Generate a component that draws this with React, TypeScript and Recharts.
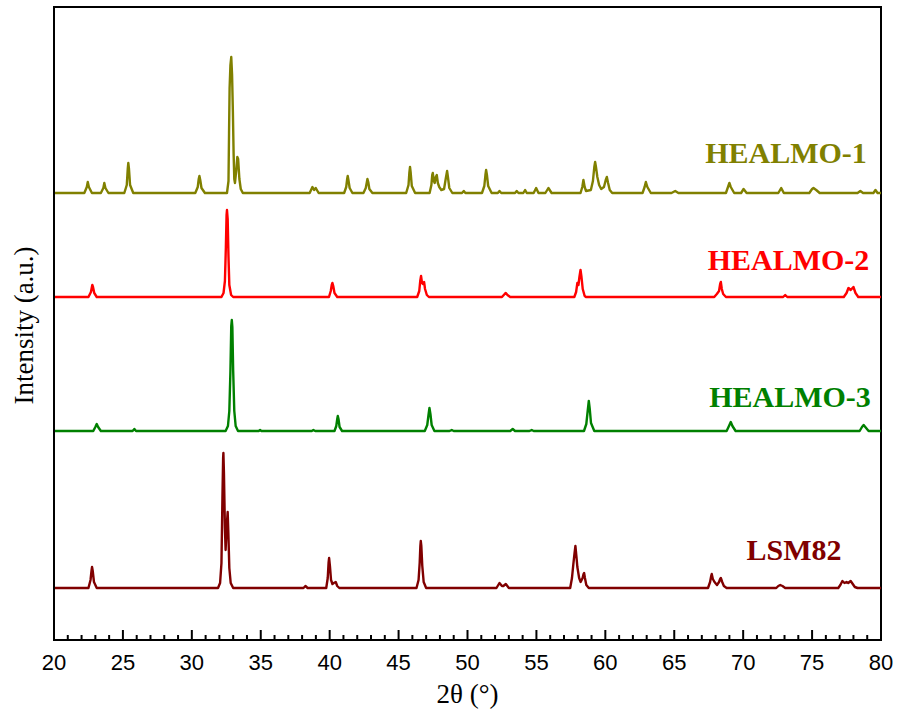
import React from 'react';
import { LineChart, Line, XAxis, YAxis, ReferenceArea, ReferenceDot, Label } from 'recharts';

// 2θ (deg) vs intensity above each trace's own baseline (a.u.)
const HEALMO1: [number, number][] = [
  [20, 0],
  [22.2, 0], [22.38, 6], [22.45, 11], [22.53, 6], [22.75, 0],
  [23.4, 0], [23.58, 5], [23.65, 10], [23.73, 5], [23.95, 0],
  [25.1, 0], [25.28, 8], [25.35, 24], [25.39, 30], [25.44, 24], [25.52, 8], [25.75, 0],
  [30.25, 0], [30.43, 6], [30.5, 14], [30.55, 17], [30.61, 13], [30.7, 5], [30.95, 0],
  [32.55, 0], [32.66, 12], [32.7, 60], [32.74, 105], [32.8, 128], [32.86, 136], [32.92, 118], [32.98, 80], [33.03, 40], [33.08, 14], [33.13, 10], [33.22, 22], [33.3, 36], [33.36, 34], [33.45, 14], [33.55, 4], [33.7, 0],
  [38.55, 0], [38.75, 6], [38.87, 3], [38.99, 5], [39.2, 0],
  [41.05, 0], [41.2, 6], [41.27, 14], [41.31, 17], [41.36, 13], [41.45, 5], [41.65, 0],
  [42.45, 0], [42.62, 5], [42.7, 11], [42.74, 14], [42.8, 11], [42.88, 4], [43.1, 0],
  [45.55, 0], [45.72, 8], [45.78, 20], [45.83, 26], [45.88, 20], [45.96, 7], [46.2, 0],
  [47.25, 0], [47.38, 8], [47.44, 18], [47.48, 20], [47.56, 12], [47.62, 10], [47.7, 16], [47.77, 18], [47.85, 10], [47.95, 6], [48.1, 3], [48.3, 4], [48.43, 15], [48.52, 22], [48.58, 16], [48.68, 5], [48.9, 0],
  [49.6, 0], [49.73, 2], [49.85, 0],
  [51.05, 0], [51.22, 7], [51.3, 18], [51.35, 23], [51.41, 18], [51.5, 7], [51.75, 0],
  [52.2, 0], [52.32, 2], [52.45, 0],
  [53.45, 0], [53.57, 2], [53.7, 0], [54.05, 0], [54.18, 3], [54.3, 0],
  [54.8, 0], [54.98, 5], [55.15, 0],
  [55.65, 0], [55.87, 5], [56.1, 0],
  [58.2, 0], [58.33, 6], [58.41, 13], [58.5, 6], [58.6, 2], [58.95, 3], [59.1, 12], [59.2, 26], [59.26, 31], [59.32, 26], [59.42, 16], [59.55, 8], [59.7, 4], [59.9, 6], [60.03, 13], [60.11, 16], [60.2, 10], [60.32, 3], [60.5, 0],
  [62.7, 0], [62.85, 6], [62.94, 11], [63.05, 6], [63.3, 0],
  [64.8, 0], [65.07, 2], [65.3, 0],
  [68.75, 0], [68.9, 6], [69.0, 10], [69.1, 6], [69.35, 0],
  [69.85, 0], [70.03, 4], [70.25, 0],
  [72.55, 0], [72.76, 5], [72.95, 0],
  [74.8, 0], [75.0, 4], [75.1, 5], [75.3, 3], [75.55, 0],
  [78.3, 0], [78.5, 2], [78.7, 0], [79.45, 0], [79.6, 3], [79.75, 0], [80, 0],
];

const HEALMO2: [number, number][] = [
  [20, 0],
  [22.5, 0], [22.68, 5], [22.75, 10], [22.78, 12], [22.83, 10], [22.92, 4], [23.1, 0],
  [32.15, 0], [32.3, 4], [32.4, 16], [32.47, 50], [32.52, 82], [32.55, 87], [32.6, 78], [32.66, 40], [32.72, 12], [32.85, 2], [33.0, 0],
  [39.95, 0], [40.08, 6], [40.15, 12], [40.2, 14], [40.26, 11], [40.35, 4], [40.55, 0],
  [46.35, 0], [46.5, 6], [46.57, 16], [46.63, 21], [46.7, 14], [46.78, 13], [46.85, 15], [46.92, 8], [47.05, 2], [47.2, 0],
  [52.5, 0], [52.7, 3], [52.78, 4], [52.9, 2], [53.1, 0],
  [57.75, 0], [57.88, 5], [57.97, 14], [58.05, 12], [58.12, 20], [58.2, 27], [58.27, 20], [58.36, 8], [58.5, 1], [58.6, 0],
  [67.9, 0], [68.09, 3], [68.25, 6], [68.33, 13], [68.38, 15], [68.45, 8], [68.55, 3], [68.75, 0],
  [72.9, 0], [73.05, 2], [73.2, 0],
  [77.3, 0], [77.5, 4], [77.64, 9], [77.8, 7], [78.0, 10], [78.15, 4], [78.35, 0], [80, 0],
];

const HEALMO3: [number, number][] = [
  [20, 0],
  [22.85, 0], [23.0, 4], [23.1, 7], [23.2, 4], [23.4, 0],
  [25.7, 0], [25.83, 2], [25.95, 0],
  [32.45, 0], [32.62, 5], [32.72, 20], [32.8, 60], [32.86, 105], [32.9, 111], [32.94, 104], [33.0, 60], [33.08, 20], [33.18, 5], [33.35, 0],
  [34.85, 0], [34.95, 1], [35.05, 0],
  [38.7, 0], [38.82, 1], [38.95, 0],
  [40.35, 0], [40.48, 5], [40.55, 12], [40.59, 15], [40.64, 12], [40.72, 4], [40.9, 0],
  [46.9, 0], [47.08, 6], [47.17, 16], [47.24, 23], [47.31, 17], [47.4, 6], [47.6, 0],
  [48.7, 0], [48.86, 1], [49.0, 0],
  [53.1, 0], [53.28, 2], [53.45, 0],
  [54.5, 0], [54.66, 1], [54.8, 0],
  [58.45, 0], [58.62, 7], [58.72, 20], [58.8, 30], [58.87, 22], [58.96, 8], [59.2, 0],
  [68.8, 0], [68.97, 5], [69.1, 9], [69.22, 5], [69.45, 0],
  [78.45, 0], [78.62, 4], [78.74, 6], [78.86, 4], [79.1, 0], [80, 0],
];

const LSM82: [number, number][] = [
  [20, 0],
  [22.5, 0], [22.65, 8], [22.72, 17], [22.76, 21], [22.81, 17], [22.9, 6], [23.1, 0],
  [31.9, 0], [32.05, 5], [32.15, 25], [32.22, 90], [32.27, 130], [32.29, 135], [32.33, 115], [32.4, 60], [32.45, 38], [32.52, 60], [32.6, 76], [32.65, 55], [32.72, 20], [32.82, 5], [33.0, 0],
  [38.1, 0], [38.24, 2], [38.4, 0],
  [39.75, 0], [39.86, 10], [39.92, 25], [39.96, 30], [40.02, 22], [40.1, 8], [40.2, 4], [40.3, 5], [40.44, 6], [40.55, 2], [40.7, 0],
  [46.3, 0], [46.45, 8], [46.53, 25], [46.58, 42], [46.61, 47], [46.65, 42], [46.72, 22], [46.82, 6], [47.0, 0],
  [52.1, 0], [52.32, 5], [52.5, 2], [52.6, 2], [52.78, 4], [53.0, 0],
  [57.45, 0], [57.58, 10], [57.68, 24], [57.76, 34], [57.83, 42], [57.9, 32], [57.97, 21], [58.1, 10], [58.21, 6], [58.35, 10], [58.42, 14], [58.46, 15], [58.52, 10], [58.62, 3], [58.8, 0],
  [67.45, 0], [67.6, 6], [67.68, 12], [67.72, 14], [67.8, 9], [67.92, 6], [68.1, 3], [68.25, 6], [68.33, 9], [68.38, 10], [68.48, 6], [68.6, 2], [68.8, 0],
  [72.4, 0], [72.55, 2], [72.69, 3], [72.85, 2], [73.05, 0],
  [76.9, 0], [77.05, 3], [77.2, 7], [77.35, 5], [77.5, 6], [77.62, 5], [77.8, 7], [77.95, 4], [78.1, 1], [78.3, 0], [80, 0],
];

const SERIES_NAMES = ['HEALMO-1', 'HEALMO-2', 'HEALMO-3', 'LSM82'];
const SERIES_OFFSETS = [447, 343, 209, 52];
const SERIES_COLORS = ['#808000', '#ff0000', '#008000', '#800000'];
const LABEL_X = [73.11, 73.29, 73.4, 73.69];
const LABEL_Y = [477, 370, 233, 80];

const X_TICKS: number[] = [];
for (let t = 20; t <= 80; t += 1) X_TICKS.push(t);

const SERIF = '"Liberation Serif", "Times New Roman", serif';
const SANS = '"Liberation Sans", Arial, sans-serif';

const toData = (pts: [number, number][], offset: number) =>
  pts.map(([x, h]) => ({ x, y: h + offset }));

const ALL = [HEALMO1, HEALMO2, HEALMO3, LSM82].map((p, i) => toData(p, SERIES_OFFSETS[i]));

const XTick = (props: any) => {
  const { x, y, payload } = props;
  const v = payload.value as number;
  const major = v % 5 === 0;
  return (
    <g>
      <line x1={x} x2={x} y1={y} y2={y - (major ? 10 : 5)} stroke="#000" strokeWidth={2} />
      {major && (
        <text x={x} y={y + 30} textAnchor="middle" fontFamily={SANS} fontSize={22} fill="#000">
          {v}
        </text>
      )}
    </g>
  );
};

export default function App() {
  return (
    <div style={{ position: 'absolute', left: 0, top: 0, background: '#fff' }}>
      <LineChart width={899} height={717} margin={{ top: 7, right: 18, bottom: 0, left: 0 }}>
        <XAxis
          dataKey="x"
          type="number"
          domain={[20, 80]}
          ticks={X_TICKS}
          interval={0}
          allowDataOverflow
          height={77}
          tickSize={0}
          tickMargin={0}
          tickLine={false}
          tick={<XTick />}
          axisLine={{ stroke: '#000', strokeWidth: 2 }}
        >
          <Label
            content={(p: any) => {
              const vb = p.viewBox;
              return (
                <text x={vb.x + vb.width / 2} y={vb.y + 63} textAnchor="middle" fontFamily={SERIF} fontSize={27} fill="#000">
                  2θ (°)
                </text>
              );
            }}
          />
        </XAxis>
        <YAxis
          type="number"
          domain={[0, 633]}
          allowDataOverflow
          width={54}
          tick={false}
          tickLine={false}
          axisLine={{ stroke: '#000', strokeWidth: 2 }}
        >
          <Label
            content={(p: any) => {
              const vb = p.viewBox;
              const cx = vb.x + 33;
              const cy = vb.y + vb.height / 2 + 2;
              return (
                <text x={cx} y={cy} transform={`rotate(-90 ${cx} ${cy})`} textAnchor="middle" fontFamily={SERIF} fontSize={27} fill="#000">
                  Intensity (a.u.)
                </text>
              );
            }}
          />
        </YAxis>
        <ReferenceArea x1={20} x2={80} y1={0} y2={633} fill="none" stroke="#000" strokeWidth={2} ifOverflow="visible" />
        {ALL.map((d, i) => (
          <Line
            key={SERIES_NAMES[i]}
            data={d}
            dataKey="y"
            type="linear"
            stroke={SERIES_COLORS[i]}
            strokeWidth={2.4}
            strokeLinejoin="round"
            dot={false}
            activeDot={false}
            isAnimationActive={false}
          />
        ))}
        {SERIES_NAMES.map((name, i) => (
          <ReferenceDot
            key={'lbl' + name}
            x={LABEL_X[i]}
            y={LABEL_Y[i]}
            r={0}
            fill="none"
            stroke="none"
            ifOverflow="visible"
            label={{
              content: (p: any) => {
                const vb = p.viewBox;
                const cx = vb.x + (vb.width || 0) / 2;
                const cy = vb.y + (vb.height || 0) / 2;
                return (
                  <text x={cx} y={cy} textAnchor="middle" fontFamily={SERIF} fontWeight="bold" fontSize={30} fill={SERIES_COLORS[i]}>
                    {name}
                  </text>
                );
              },
            }}
          />
        ))}
      </LineChart>
    </div>
  );
}
